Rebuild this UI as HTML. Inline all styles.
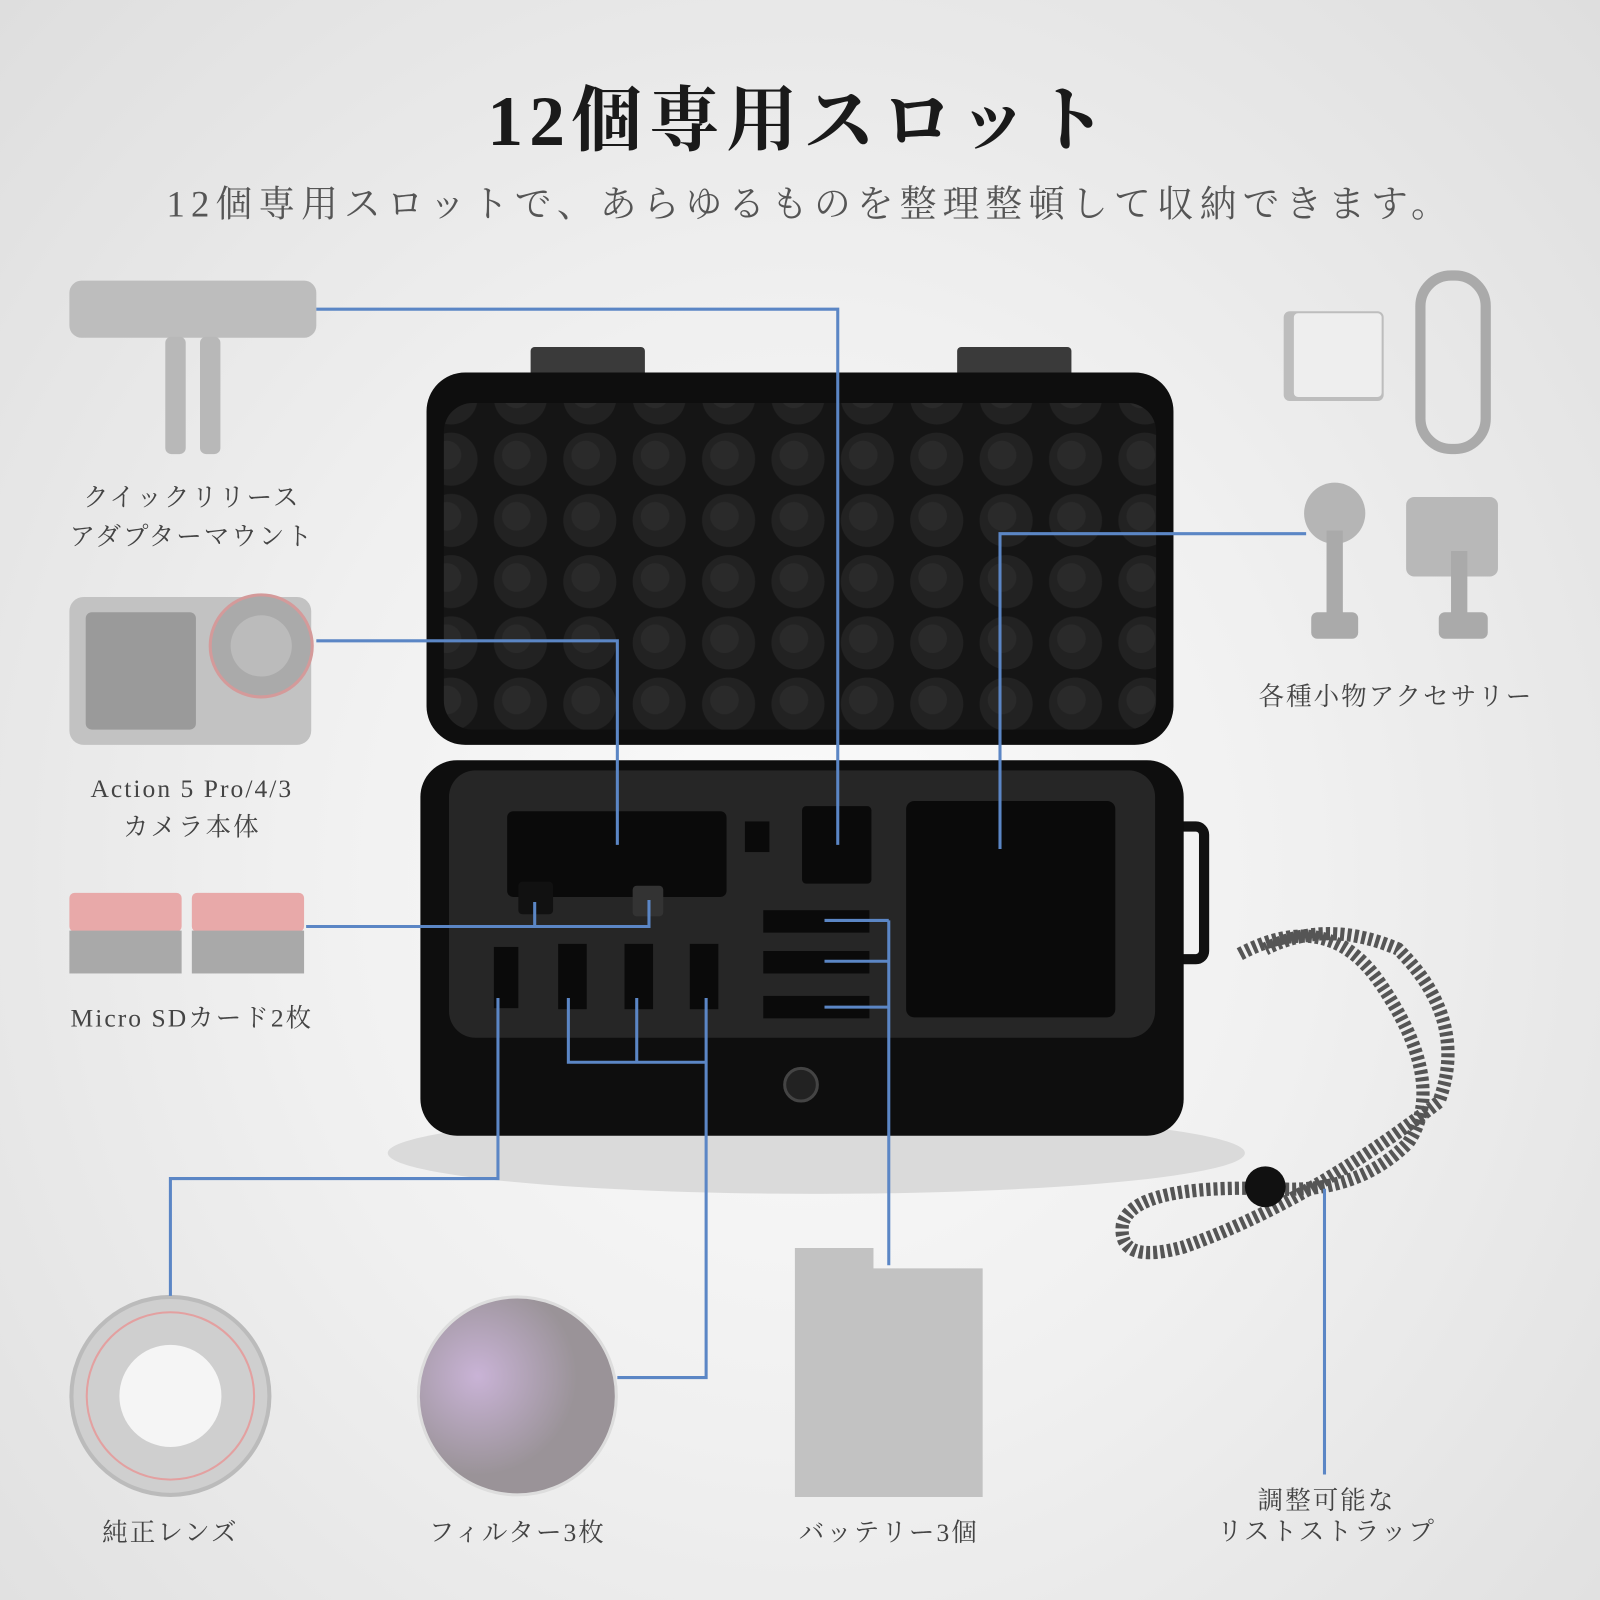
<!DOCTYPE html>
<html><head><meta charset="utf-8"><style>
html,body{margin:0;padding:0;width:1600px;height:1600px;overflow:hidden}
#w{width:1568px;height:1568px;transform:scale(1.020408);transform-origin:0 0;position:relative;
background:radial-gradient(ellipse at 50% 55%,#fbfbfb 0%,#f0f0f0 45%,#dedede 100%);font-family:"Liberation Serif","Noto Serif CJK SC",serif;color:#333}
.t{position:absolute;text-align:center;white-space:nowrap}
.lbl{font-size:25px;color:#444;line-height:38px;letter-spacing:2px}
.a{position:absolute}
</style></head><body><div id="w">
<div class="t" style="left:0;width:1568px;top:62px;font-size:70px;color:#1a1a1a;letter-spacing:6px;font-weight:bold">12個専用スロット</div>
<div class="t" style="left:0;width:1588px;top:172px;font-size:36px;color:#555;letter-spacing:6px">12個専用スロットで、あらゆるものを整理整頓して収納できます。</div>

<svg class="a" style="left:0;top:0" width="1568" height="1568">
<defs>
<pattern id="foam" width="68" height="60" patternUnits="userSpaceOnUse">
<rect width="68" height="60" fill="#151515"/>
<circle cx="34" cy="30" r="26" fill="#222"/><circle cx="30" cy="26" r="14" fill="#2a2a2a"/>
</pattern>
<radialGradient id="filt" cx="0.3" cy="0.4"><stop offset="0" stop-color="#c9b3d6"/><stop offset="1" stop-color="#9a9398"/></radialGradient>
</defs>
<ellipse cx="800" cy="1130" rx="420" ry="40" fill="#dadada"/>
<rect x="520" y="340" width="112" height="64" fill="#3a3a3a" rx="4"/>
<rect x="938" y="340" width="112" height="64" fill="#3a3a3a" rx="4"/>
<rect x="418" y="365" width="732" height="365" rx="38" fill="#0e0e0e"/>
<rect x="435" y="395" width="698" height="320" rx="28" fill="url(#foam)"/>
<rect x="1140" y="810" width="40" height="130" rx="8" fill="none" stroke="#111" stroke-width="10"/>
<rect x="412" y="745" width="748" height="368" rx="36" fill="#0e0e0e"/>
<rect x="440" y="755" width="692" height="262" rx="26" fill="#262626"/>
<rect x="497" y="795" width="215" height="84" rx="6" fill="#0a0a0a"/>
<rect x="730" y="805" width="24" height="30" fill="#0a0a0a"/>
<rect x="786" y="790" width="68" height="76" rx="4" fill="#0a0a0a"/>
<rect x="888" y="785" width="205" height="212" rx="8" fill="#0a0a0a"/>
<rect x="748" y="892" width="104" height="22" fill="#0a0a0a"/>
<rect x="748" y="932" width="104" height="22" fill="#0a0a0a"/>
<rect x="748" y="976" width="104" height="22" fill="#0a0a0a"/>
<rect x="484" y="928" width="24" height="60" fill="#0a0a0a"/>
<rect x="547" y="925" width="28" height="64" fill="#0a0a0a"/>
<rect x="612" y="925" width="28" height="64" fill="#0a0a0a"/>
<rect x="676" y="925" width="28" height="64" fill="#0a0a0a"/>
<rect x="508" y="864" width="34" height="32" rx="4" fill="#111"/>
<rect x="620" y="868" width="30" height="30" rx="4" fill="#333"/>
<circle cx="785" cy="1063" r="16" fill="#222" stroke="#444" stroke-width="3"/>
<path d="M1215 935 Q1300 890 1350 960 Q1420 1060 1380 1120 Q1330 1170 1250 1165 Q1110 1160 1100 1200 Q1095 1240 1160 1222 Q1280 1180 1410 1080 Q1440 1000 1370 930 Q1300 900 1240 930" fill="none" stroke="#555" stroke-width="13" stroke-dasharray="4 3"/>
<circle cx="1240" cy="1163" r="20" fill="#111"/>
<rect x="68" y="275" width="242" height="56" rx="12" fill="#bdbdbd"/>
<rect x="162" y="330" width="20" height="115" rx="6" fill="#b8b8b8"/>
<rect x="196" y="330" width="20" height="115" rx="6" fill="#b8b8b8"/>
<rect x="68" y="585" width="237" height="145" rx="14" fill="#c2c2c2"/>
<rect x="84" y="600" width="108" height="115" rx="6" fill="#9a9a9a"/>
<circle cx="256" cy="633" r="50" fill="#aaa" stroke="#d49a9a" stroke-width="3"/>
<circle cx="256" cy="633" r="30" fill="#bbb"/>
<rect x="68" y="875" width="110" height="38" rx="5" fill="#e8a9a9"/>
<rect x="68" y="912" width="110" height="42" fill="#a9a9a9"/>
<rect x="188" y="875" width="110" height="38" rx="5" fill="#e8a9a9"/>
<rect x="188" y="912" width="110" height="42" fill="#a9a9a9"/>
<rect x="1258" y="305" width="98" height="88" rx="6" fill="#bdbdbd"/>
<rect x="1268" y="307" width="86" height="82" rx="4" fill="#eee"/>
<rect x="1392" y="270" width="64" height="170" rx="30" fill="none" stroke="#aaa" stroke-width="10"/>
<circle cx="1308" cy="503" r="30" fill="#b5b5b5"/><rect x="1300" y="520" width="16" height="90" fill="#aaa"/><rect x="1285" y="600" width="46" height="26" rx="6" fill="#aaa"/>
<rect x="1378" y="487" width="90" height="78" rx="8" fill="#b8b8b8"/><rect x="1422" y="540" width="16" height="70" fill="#aaa"/><rect x="1410" y="600" width="48" height="26" rx="6" fill="#aaa"/>
<circle cx="167" cy="1368" r="97" fill="#cfcfcf" stroke="#bbb" stroke-width="4"/>
<circle cx="167" cy="1368" r="82" fill="none" stroke="#e3a0a0" stroke-width="2"/>
<circle cx="167" cy="1368" r="50" fill="#f5f5f5"/>
<circle cx="507" cy="1368" r="97" fill="url(#filt)" stroke="#ddd" stroke-width="3"/>
<path d="M779 1223 H856 V1243 H963 V1467 H779 Z" fill="#c2c2c2"/>
<g fill="none" stroke="#5b86c5" stroke-width="3">
<path d="M310 303 H821 V828"/>
<path d="M310 628 H605 V828"/>
<path d="M300 908 H636 V882 M524 908 V884"/>
<path d="M1280 523 H980 V832"/>
<path d="M808 902 H871 M808 942 H871 M808 987 H871 M871 902 V1240"/>
<path d="M488 978 V1155 H167 V1270"/>
<path d="M557 978 V1041 H692 M624 978 V1041 M692 978 V1350 H605"/>
<path d="M1298 1165 V1445"/>
</g>
</svg>

<div class="t lbl" style="left:48px;width:280px;top:470px">クイックリリース<br>アダプターマウント</div>
<div class="t lbl" style="left:48px;width:280px;top:755px">Action 5 Pro/4/3<br>カメラ本体</div>
<div class="t lbl" style="left:38px;width:300px;top:980px">Micro SDカード2枚</div>
<div class="t lbl" style="left:1218px;width:300px;top:665px">各種小物アクセサリー</div>
<div class="t lbl" style="left:37px;width:260px;top:1484px">純正レンズ</div>
<div class="t lbl" style="left:377px;width:260px;top:1484px">フィルター3枚</div>
<div class="t lbl" style="left:741px;width:260px;top:1484px">バッテリー3個</div>
<div class="t lbl" style="left:1150px;width:300px;top:1457px;line-height:30px">調整可能な<br>リストストラップ</div>
</div></body></html>
